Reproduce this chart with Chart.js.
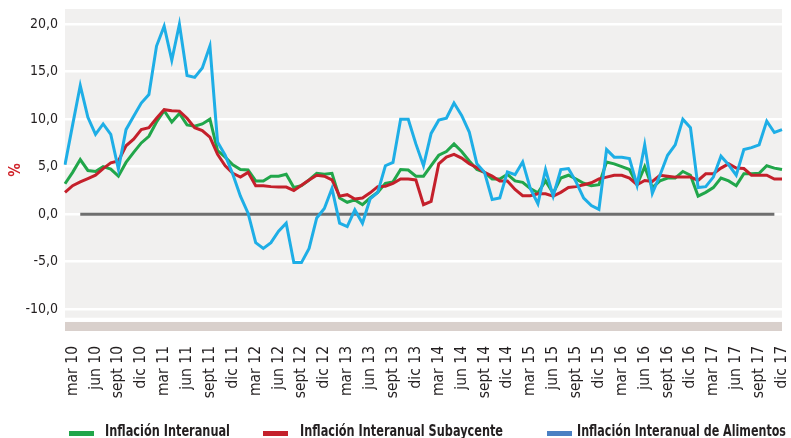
<!DOCTYPE html>
<html>
<head>
<meta charset="utf-8">
<script src="https://cdn.jsdelivr.net/npm/chart.js@4.4.1/dist/chart.umd.min.js"></script>
<style>
  html, body { margin: 0; padding: 0; background: #fff; }
  #wrap { width: 791px; height: 438px; }
</style>
</head>
<body>
<div id="wrap"><canvas id="inflChart" width="791" height="438"></canvas></div>
<script>
const ctx = document.getElementById("inflChart").getContext("2d");

// meses feb 10 .. dic 17
const MONTHS = ["ene", "feb", "mar", "abr", "may", "jun", "jul", "ago", "sept", "oct", "nov", "dic"];
const YEARS = ["10", "11", "12", "13", "14", "15", "16", "17"];
const SHOWN_MONTHS = ["mar", "jun", "sept", "dic"];
const Y_TICKS = [-10, -5, 0, 5, 10, 15, 20];

const labels = [];
YEARS.forEach((y, yi) => {
  MONTHS.forEach((m, mi) => {
    if (yi === 0 && mi === 0) return;
    labels.push(m + " " + y);
  });
});

const inflacion = [
  3.2, 4.4, 5.75, 4.6, 4.5, 5.0, 4.75, 4.0, 5.45, 6.5, 7.5, 8.2, 9.7, 10.9, 9.7, 10.6,
  9.4, 9.25, 9.5, 10.0, 6.7, 6.0, 5.2, 4.7, 4.65, 3.5, 3.5, 4.0, 4.0, 4.2, 2.8, 3.0,
  3.6, 4.3, 4.2, 4.3, 1.7, 1.25, 1.5, 1.0, 1.7, 2.3, 3.25, 3.4, 4.7, 4.65, 4.0, 4.0,
  5.1, 6.2, 6.6, 7.4, 6.6, 5.6, 4.7, 4.4, 3.7, 3.7, 4.2, 3.5, 3.35, 2.7, 2.25, 3.5,
  2.2, 3.8, 4.1, 3.7, 3.25, 3.0, 3.1, 5.5, 5.3, 5.0, 4.7, 3.1, 5.0, 2.8, 3.5, 3.8,
  3.8, 4.5, 4.1, 1.9, 2.3, 2.8, 3.8, 3.5, 3.0, 4.25, 4.25, 4.3, 5.1, 4.85, 4.7,
];

const subyacente = [
  2.3, 3.0, 3.4, 3.75, 4.1, 4.8, 5.4, 5.6, 7.2, 7.9, 8.9, 9.1, 10.1, 11.0, 10.9, 10.85,
  10.1, 9.1, 8.8, 8.1, 6.3, 5.1, 4.3, 3.9, 4.4, 3.0, 3.0, 2.9, 2.85, 2.85, 2.5, 3.05,
  3.6, 4.1, 4.0, 3.6, 1.9, 2.05, 1.6, 1.7, 2.25, 2.9, 2.95, 3.25, 3.7, 3.7, 3.6, 1.0,
  1.35, 5.3, 6.0, 6.3, 5.9, 5.3, 4.9, 4.4, 4.0, 3.5, 3.5, 2.6, 1.95, 1.95, 2.15, 2.15,
  1.9, 2.3, 2.8, 2.9, 3.1, 3.3, 3.7, 3.9, 4.1, 4.1, 3.8, 3.1, 3.55, 3.45, 4.1, 4.0,
  3.9, 3.9, 3.9, 3.55, 4.25, 4.25, 4.85, 5.3, 4.85, 4.8, 4.1, 4.1, 4.1, 3.7, 3.7,
];

const alimentos = [
  5.2, 9.4, 13.55, 10.2, 8.4, 9.5, 8.4, 4.75, 8.9, 10.3, 11.7, 12.6, 17.7, 19.8, 16.2, 20.0,
  14.6, 14.4, 15.4, 17.7, 7.6, 6.2, 4.2, 1.9, 0.1, -3.0, -3.6, -3.0, -1.8, -0.95, -5.1, -5.1,
  -3.6, -0.4, 0.6, 2.7, -0.95, -1.3, 0.45, -0.95, 1.6, 2.3, 5.1, 5.45, 10.0, 10.0, 7.4, 5.1,
  8.5, 9.9, 10.1, 11.7, 10.4, 8.65, 5.3, 4.4, 1.55, 1.7, 4.45, 4.15, 5.5, 2.7, 1.1, 4.7,
  1.9, 4.7, 4.8, 3.4, 1.7, 0.9, 0.5, 6.8, 6.0, 6.0, 5.85, 3.05, 7.3, 2.2, 4.1, 6.2,
  7.3, 10.0, 9.1, 2.8, 2.9, 3.9, 6.1, 5.2, 4.1, 6.8, 7.0, 7.3, 9.8, 8.6, 8.9,
];

// linea de referencia en cero
const cero = labels.map((l, i) => (i < 2 || i > 93 ? null : 0));

const COLORS = {
  green: "#21a64a",
  red: "#c4202b",
  blue: "#1eaee6",
  blueLegend: "#4a80c3",
  zero: "#6e6e6e",
  plot: "#f1f0ef",
  floor: "#d9d0cc",
  text: "#231f20",
};

const FONT = "'DejaVu Sans Condensed', 'Liberation Sans', sans-serif";

// leyenda inferior (posiciones como en el original)
const LEGEND_BOX_X = [69, 263, 547];
const LEGEND_TEXT_X = [105, 300, 577];
const LEGEND_TEXT_W = [125, 203, 209];

const plotBackground = {
  id: "plotBackground",
  beforeDraw(chart) {
    const { ctx, chartArea: a, scales: { y } } = chart;
    ctx.save();
    ctx.fillStyle = COLORS.plot;
    ctx.fillRect(a.left, a.top, a.right - a.left, y.getPixelForValue(-10.9) - a.top);
    ctx.fillStyle = COLORS.floor;
    const f = y.getPixelForValue(-11.35);
    ctx.fillRect(a.left, f, a.right - a.left, a.bottom - f);
    ctx.restore();
  },
};

const bottomLegend = {
  id: "bottomLegend",
  afterDraw(chart) {
    const ctx = chart.ctx;
    ctx.save();
    chart.data.datasets.slice(0, 3).forEach((ds, i) => {
      ctx.fillStyle = ds.backgroundColor;
      ctx.fillRect(LEGEND_BOX_X[i], 431, 25, 5);
      ctx.fillStyle = COLORS.text;
      ctx.font = "bold 16.5px " + FONT;
      ctx.textAlign = "left";
      ctx.textBaseline = "alphabetic";
      ctx.fillText(ds.label, LEGEND_TEXT_X[i], 436, LEGEND_TEXT_W[i]);
    });
    ctx.restore();
  },
};

const data = {
  labels: labels,
  datasets: [
    {
      label: "Inflación Interanual",
      data: inflacion,
      borderColor: COLORS.green,
      backgroundColor: COLORS.green,
      order: 3,
    },
    {
      label: "Inflación Interanual Subaycente",
      data: subyacente,
      borderColor: COLORS.red,
      backgroundColor: COLORS.red,
      order: 2,
    },
    {
      label: "Inflación Interanual de Alimentos",
      data: alimentos,
      borderColor: COLORS.blue,
      backgroundColor: COLORS.blueLegend,
      order: 1,
    },
    {
      label: "cero",
      data: cero,
      borderColor: COLORS.zero,
      backgroundColor: COLORS.zero,
      order: 4,
    },
  ],
};

const config = {
  type: "line",
  data: data,
  plugins: [plotBackground, bottomLegend],
  options: {
    responsive: false,
    animation: false,
    devicePixelRatio: 1,
    layout: {
      padding: { left: 0, right: 9, top: 9, bottom: 0 },
    },
    elements: {
      line: { borderWidth: 3, tension: 0, fill: false },
      point: { radius: 0 },
    },
    plugins: {
      tooltip: { enabled: false },
      legend: { display: false },
    },
    scales: {
      x: {
        grid: { display: false, drawTicks: false },
        border: { display: false },
        afterFit: (s) => {
          s.height = 107;
          s.paddingLeft = 0;
          s.paddingRight = 0;
        },
        ticks: {
          autoSkip: false,
          minRotation: 90,
          maxRotation: 90,
          padding: 15,
          color: COLORS.text,
          font: { family: FONT, size: 15.5 },
          callback: function (v) {
            const l = this.getLabelForValue(v);
            return SHOWN_MONTHS.includes(l.split(" ")[0]) ? l : "";
          },
        },
      },
      y: {
        min: -12.3,
        max: 21.6,
        afterFit: (s) => {
          s.width = 65;
          s.paddingTop = 0;
          s.paddingBottom = 0;
        },
        afterBuildTicks: (s) => { s.ticks = Y_TICKS.map((v) => ({ value: v })); },
        grid: { color: "#ffffff", lineWidth: 2.5, drawTicks: false },
        border: { display: false },
        title: {
          display: true,
          text: "%",
          color: "#d0242b",
          padding: { top: 7, bottom: 0 },
          font: { family: FONT, size: 15, weight: "bold" },
        },
        ticks: {
          padding: 7,
          color: COLORS.text,
          font: { family: FONT, size: 14 },
          callback: (v) => v.toFixed(1).replace(".", ","),
        },
      },
    },
  },
};

const inflChart = new Chart(ctx, config);
</script>
</body>
</html>
